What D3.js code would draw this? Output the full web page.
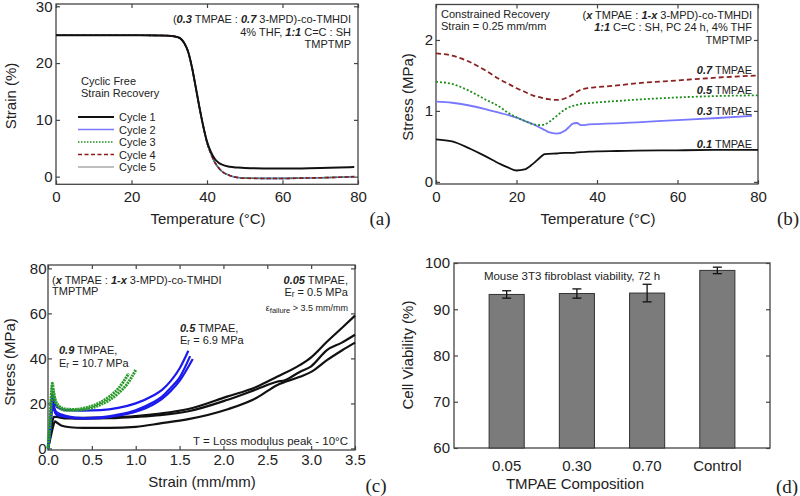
<!DOCTYPE html>
<html><head><meta charset="utf-8">
<script src="https://cdn.jsdelivr.net/npm/d3@7"></script>
<style>body{margin:0;background:#fff} svg text{font-family:Arial,"Liberation Sans",sans-serif;fill:#222}</style>
</head><body><svg id="c" width="800" height="496"></svg>
<script>
// ---------- Panel (a): cyclic free strain recovery ----------
const tempA  = [0,10,20,28,30,32,33,34,35,36,37,38,39,40,41,42,43,44,46,48,50,55,60,65,70,75,79];
const cycle1 = [24.9,24.9,24.9,24.85,24.8,24.6,24.3,23.5,22,19.3,15.8,12.2,8.9,6.2,4.4,3.2,2.5,2.1,1.75,1.6,1.5,1.45,1.45,1.45,1.5,1.6,1.7];
const cycle2 = [24.9,24.9,24.9,24.85,24.8,24.6,24.3,23.5,22,19.3,15.8,12.2,8.9,6.0,4.1,2.6,1.6,0.9,0.2,-0.15,-0.25,-0.3,-0.3,-0.25,-0.2,-0.1,0.0];
const cycle3 = [24.9,24.9,24.9,24.85,24.8,24.6,24.3,23.5,22,19.3,15.8,12.2,8.9,6.0,4.1,2.6,1.6,0.9,0.2,-0.15,-0.25,-0.3,-0.3,-0.25,-0.2,-0.1,0.0];
const cycle4 = [24.9,24.9,24.9,24.85,24.8,24.6,24.3,23.5,22,19.3,15.8,12.2,8.9,6.0,4.1,2.6,1.6,0.9,0.2,-0.15,-0.28,-0.32,-0.32,-0.27,-0.2,-0.12,-0.02];
const cycle5 = [24.9,24.9,24.9,24.85,24.8,24.6,24.3,23.5,22,19.3,15.8,12.2,8.9,6.0,4.1,2.6,1.6,0.9,0.2,-0.15,-0.25,-0.3,-0.3,-0.25,-0.2,-0.1,0.0];
const cycleNames = ["Cycle 1","Cycle 2","Cycle 3","Cycle 4","Cycle 5"];

// ---------- Panel (b): constrained recovery ----------
const tempB    = [0,4,8,12,16,18,20,22,24,26,27,28,30,32,34,35,36,38,40,45,50,60,70,80];
const tmpae01  = [0.60,0.57,0.48,0.37,0.25,0.20,0.16,0.175,0.25,0.35,0.39,0.395,0.40,0.41,0.41,0.415,0.42,0.425,0.43,0.435,0.44,0.445,0.45,0.45];
const tmpae05  = [1.41,1.38,1.29,1.17,1.05,0.97,0.91,0.86,0.815,0.80,0.81,0.84,0.93,1.02,1.07,1.085,1.10,1.11,1.12,1.14,1.16,1.19,1.21,1.22];
const tmpae07  = [1.81,1.78,1.70,1.58,1.44,1.38,1.32,1.27,1.22,1.19,1.175,1.165,1.155,1.175,1.23,1.27,1.30,1.325,1.335,1.36,1.39,1.43,1.47,1.50];
const tempB03  = [0,4,8,12,16,18,20,22,24,26,27,28,30,32,33,34,35,36,37,38,40,45,50,60,70,78.5];
const tmpae03  = [1.13,1.115,1.08,1.03,0.97,0.94,0.905,0.86,0.815,0.76,0.73,0.70,0.68,0.72,0.77,0.82,0.83,0.80,0.80,0.81,0.815,0.825,0.84,0.87,0.90,0.93];

// ---------- Panel (c): stress-strain ----------
const strainBlack1 = [0,0.02,0.035,0.05,0.07,0.1,0.15,0.25,0.4,0.7,1.0,1.28,1.6,2.04,2.38,2.61,2.87,3.0,3.18,3.35,3.5];
const stressBlack1 = [0,5,15,24,18,15,14.2,13.7,13.6,13.8,14.4,15.5,17.5,23,27.4,31.8,37,40.5,47.4,53.5,59];
const strainBlack2 = [0,0.03,0.05,0.07,0.1,0.15,0.25,0.4,0.7,1.0,1.28,1.6,2.04,2.38,2.61,2.7,2.87,3.0,3.18,3.35,3.5];
const stressBlack2 = [0,7,12,14,14,13.6,13.3,13.2,13.4,14,14.8,16.5,21.5,26.3,29.6,30.3,34,36.5,43.7,47,50.5];
const strainBlack3 = [0,0.03,0.06,0.08,0.1,0.15,0.25,0.4,0.7,1.0,1.28,1.6,2.04,2.38,2.61,2.87,3.0,3.18,3.35,3.5];
const stressBlack3 = [0,5,10,12,11.5,10.2,9.4,9.1,9.1,9.6,11.1,13,17.3,22.5,28.1,31.8,34,39.2,43.5,47];
const strainBlue1 = [0,0.02,0.04,0.05,0.07,0.1,0.2,0.4,0.6,0.8,1.0,1.2,1.3,1.4,1.5,1.6];
const stressBlue1 = [0,8,20,24,21,18.5,17,16.8,17,18,20,23.5,26,30,35.5,43.4];
const strainBlue2 = [0,0.03,0.05,0.07,0.1,0.2,0.4,0.6,0.8,1.0,1.2,1.3,1.4,1.5,1.62];
const stressBlue2 = [0,10,22,18,16,14.5,13.5,13.8,15,17,20.5,23,27,31.5,41];
const strainBlue3 = [0,0.03,0.05,0.07,0.1,0.2,0.4,0.6,0.8,1.0,1.2,1.3,1.4,1.5,1.65];
const stressBlue3 = [0,9,21,17,15,14,13.3,13.5,14.5,16.3,19.5,22,25.5,30,39.7];
const strainGreen1 = [0,0.02,0.04,0.05,0.06,0.08,0.12,0.2,0.3,0.4,0.5,0.6,0.7,0.8,0.92];
const stressGreen1 = [0,10,25,29,26,22,19,17.5,17.3,17.8,18.8,20.5,23,26.5,33.3];
const strainGreen2 = [0,0.02,0.04,0.05,0.06,0.08,0.12,0.2,0.3,0.4,0.5,0.6,0.7,0.8,0.9,1.0];
const stressGreen2 = [0,9,23,27,25,21,18.5,17,17,17.3,18,19.5,21.5,24.5,28.5,34.8];

// ---------- Panel (d): cell viability ----------
const compositions = ["0.05","0.30","0.70","Control"];
const viability    = [93.2,93.4,93.5,98.4];
const viabilityErr = [0.8,1.0,1.9,0.7];

// ---------- tick values ----------
const ticksA_x = [0,20,40,60,80], ticksA_y = [0,10,20,30];
const ticksB_x = [0,20,40,60,80], ticksB_y = [0,1,2];
const ticksC_x = [0,0.5,1,1.5,2,2.5,3,3.5], ticksC_y = [0,20,40,60,80];
const ticksD_y = [60,70,80,90,100];

const svg = d3.select("#c");
const AX = "#444";

function styleAxis(g){
  g.attr("font-family",null).attr("font-size",15);
  g.selectAll(".domain").remove();
  g.selectAll("line").attr("stroke",AX).attr("stroke-width",1.2);
  g.selectAll("text").attr("fill","#222");
}
function box(x, y, o){
  const [x0,x1] = x.range(), [y0,y1] = y.range();
  svg.append("rect").attr("x",x0).attr("y",y1).attr("width",x1-x0).attr("height",y0-y1)
    .attr("fill","none").attr("stroke",AX).attr("stroke-width",1.3);
  const b = d3.axisBottom(x).tickSizeOuter(0).tickPadding(o.xPad).tickSizeInner(o.xTickIn===undefined?-4:o.xTickIn);
  if(o.xTicks) b.tickValues(o.xTicks);
  if(o.xFmt) b.tickFormat(o.xFmt);
  svg.append("g").attr("transform",`translate(0,${y0})`).call(b).call(styleAxis);
  const l = d3.axisLeft(y).tickSizeOuter(0).tickSizeInner(-4).tickPadding(o.yPad).tickValues(o.yTicks).tickFormat(d3.format("d"));
  svg.append("g").attr("transform",`translate(${x0},0)`).call(l).call(styleAxis);
  const r = d3.axisRight(y).tickSizeOuter(0).tickSizeInner(-4).tickValues(o.yTicks).tickFormat("");
  svg.append("g").attr("transform",`translate(${x1},0)`).call(r).call(styleAxis);
  if(o.top){
    const t = d3.axisTop(x).tickSizeOuter(0).tickSizeInner(-4).tickValues(o.xTicks).tickFormat("");
    svg.append("g").attr("transform",`translate(0,${y1})`).call(t).call(styleAxis);
  }
}
function txt(x, y, parts, o={}){
  const t = svg.append("text").attr("x",x).attr("y",y).attr("font-size",o.size||11)
    .attr("text-anchor",o.anchor||"start").attr("dominant-baseline","central");
  if(o.rotate) t.attr("transform",`rotate(-90,${x},${y})`);
  if(o.family) t.style("font-family",o.family);
  parts.forEach(p=>{
    const s = typeof p==="string" ? {t:p} : p;
    const ts = t.append("tspan").text(s.t);
    if(s.bi) ts.attr("font-weight","bold").attr("font-style","italic");
    if(s.sub) ts.attr("font-size",(o.size||11)*0.75).attr("baseline-shift","-25%");
    if(s.fs) ts.attr("font-size",s.fs);
  });
  return t;
}
function series(x, y, xs, ys, st){
  const line = d3.line().x((d,i)=>x(xs[i])).y(d=>y(d)).curve(d3.curveMonotoneX);
  const p = svg.append("path").attr("d",line(ys)).attr("fill","none")
    .attr("stroke",st.c).attr("stroke-width",st.w||1.6).attr("stroke-linejoin","round");
  if(st.dash) p.attr("stroke-dasharray",st.dash);
  return p;
}

// ================= (a) =================
const xA = d3.scaleLinear([0,80],[56,358]);
const yA = d3.scaleLinear([-1.35,30.4],[184.3,4]);
box(xA,yA,{xTicks:ticksA_x,yTicks:ticksA_y,xPad:7.5,yPad:3.5,top:true});
const stA = [
  {c:"#111",w:2},
  {c:"#7a7aff",w:1.6},
  {c:"#1f8f1f",w:1.6,dash:"1.5,1.5"},
  {c:"#8b1a1a",w:1.6,dash:"4,2.5"},
  {c:"#aaaaaa",w:1.6}
];
const cyc = [cycle1,cycle2,cycle3,cycle4,cycle5];
[4,1,2,3,0].forEach(i=>series(xA,yA,tempA,cyc[i],stA[i]));
cycleNames.forEach((n,i)=>{
  const yy = 117 + i*12.5;
  const l = svg.append("line").attr("x1",78).attr("x2",114).attr("y1",yy).attr("y2",yy)
    .attr("stroke",stA[i].c).attr("stroke-width",stA[i].w);
  if(stA[i].dash) l.attr("stroke-dasharray",stA[i].dash);
  txt(119,yy,[n],{size:11});
});
txt(81,81,["Cyclic Free"],{size:11});
txt(81,93,["Strain Recovery"],{size:11});
txt(351,19,["(",{t:"0.3",bi:1}," TMPAE : ",{t:"0.7",bi:1}," 3-MPD)-co-TMHDI"],{anchor:"end"});
txt(351,31.5,["4% THF, ",{t:"1:1",bi:1}," C=C : SH"],{anchor:"end"});
txt(351,44,["TMPTMP"],{anchor:"end"});
txt(208,218,["Temperature (°C)"],{size:15,anchor:"middle"});
txt(10,96,["Strain (%)"],{size:15,anchor:"middle",rotate:1});
txt(380,218,["(a)"],{size:19,anchor:"middle",family:"'Liberation Serif','Times New Roman',serif"});

// ================= (b) =================
const xB = d3.scaleLinear([0,80],[436,758]);
const yB = d3.scaleLinear([-0.03,2.5],[184,4.5]);
box(xB,yB,{xTicks:ticksB_x,yTicks:ticksB_y,xPad:7.8,yPad:3,top:true});
series(xB,yB,tempB,tmpae01,{c:"#111",w:1.8});
series(xB,yB,tempB03,tmpae03,{c:"#7777ff",w:1.8});
series(xB,yB,tempB,tmpae05,{c:"#1f8f1f",w:1.8,dash:"2,2"});
series(xB,yB,tempB,tmpae07,{c:"#8b2323",w:1.8,dash:"5,3"});
txt(752,70,[{t:"0.7",bi:1}," TMPAE"],{anchor:"end"});
txt(752,89.5,[{t:"0.5",bi:1}," TMPAE"],{anchor:"end"});
txt(752,111,[{t:"0.3",bi:1}," TMPAE"],{anchor:"end"});
txt(752,144,[{t:"0.1",bi:1}," TMPAE"],{anchor:"end"});
txt(441,14,["Constrained Recovery"]);
txt(441,26,["Strain = 0.25 mm/mm"]);
txt(752,15.3,["(",{t:"x",bi:1}," TMPAE : ",{t:"1-x",bi:1}," 3-MPD)-co-TMHDI"],{anchor:"end"});
txt(752,27,[{t:"1:1",bi:1}," C=C : SH, PC 24 h, 4% THF"],{anchor:"end"});
txt(752,40,["TMPTMP"],{anchor:"end"});
txt(598,218,["Temperature (°C)"],{size:15,anchor:"middle"});
txt(407,97,["Stress (MPa)"],{size:15,anchor:"middle",rotate:1});
txt(788,218,["(b)"],{size:19,anchor:"middle",family:"'Liberation Serif','Times New Roman',serif"});

// ================= (c) =================
const xC = d3.scaleLinear([0,3.5],[48,355]);
const yC = d3.scaleLinear([-0.7,81.5],[450,265]);
box(xC,yC,{xTicks:ticksC_x,yTicks:ticksC_y,xPad:4.5,yPad:1.5,xFmt:d3.format(".1f"),top:true});
series(xC,yC,strainBlack3,stressBlack3,{c:"#111",w:2.2});
series(xC,yC,strainBlack2,stressBlack2,{c:"#111",w:2.2});
series(xC,yC,strainBlack1,stressBlack1,{c:"#111",w:2.2});
series(xC,yC,strainBlue3,stressBlue3,{c:"#1a1aee",w:2.2});
series(xC,yC,strainBlue2,stressBlue2,{c:"#1a1aee",w:2.2});
series(xC,yC,strainBlue1,stressBlue1,{c:"#1a1aee",w:2.2});
series(xC,yC,strainGreen2,stressGreen2,{c:"#2a9a2a",w:3,dash:"2,0.8"});
series(xC,yC,strainGreen1,stressGreen1,{c:"#2a9a2a",w:3,dash:"2,0.8"});
txt(52,280,["(",{t:"x",bi:1}," TMPAE : ",{t:"1-x",bi:1}," 3-MPD)-co-TMHDI"]);
txt(52,291,["TMPTMP"]);
txt(348,280,[{t:"0.05",bi:1}," TMPAE,"],{anchor:"end"});
txt(348,292,["E",{t:"r",sub:1}," = 0.5 MPa"],{anchor:"end"});
txt(348,308,[{t:"ε",fs:9},{t:"failure",sub:1},{t:" > 3.5 mm/mm",fs:9}],{anchor:"end",size:10});
txt(180,328,[{t:"0.5",bi:1}," TMPAE,"]);
txt(180,340,["E",{t:"r",sub:1}," = 6.9 MPa"]);
txt(59,350,[{t:"0.9",bi:1}," TMPAE,"]);
txt(59,363,["E",{t:"r",sub:1}," = 10.7 MPa"]);
txt(348,441,["T = Loss modulus peak - 10°C"],{anchor:"end",size:11.5});
txt(202,481,["Strain (mm/mm)"],{size:15,anchor:"middle"});
txt(9,362,["Stress (MPa)"],{size:15,anchor:"middle",rotate:1});
txt(376,485,["(c)"],{size:19,anchor:"middle",family:"'Liberation Serif','Times New Roman',serif"});

// ================= (d) =================
const xD = d3.scaleBand(compositions,[454,770]).padding(0.5);
const yD = d3.scaleLinear([60,100],[448,263]);
box(xD,yD,{yTicks:ticksD_y,xPad:12,yPad:4,xTickIn:0});
svg.append("g").selectAll("rect").data(compositions).join("rect")
  .attr("x",d=>xD(d)).attr("width",xD.bandwidth())
  .attr("y",(d,i)=>yD(viability[i])).attr("height",(d,i)=>yD(60)-yD(viability[i]))
  .attr("fill","#7b7b7b").attr("stroke","#333").attr("stroke-width",1);
const eb = svg.append("g").attr("stroke","#111").attr("stroke-width",1.3);
compositions.forEach((d,i)=>{
  const cx = xD(d)+xD.bandwidth()/2, lo = yD(viability[i]-viabilityErr[i]), hi = yD(viability[i]+viabilityErr[i]);
  eb.append("line").attr("x1",cx).attr("x2",cx).attr("y1",lo).attr("y2",hi);
  eb.append("line").attr("x1",cx-4.5).attr("x2",cx+4.5).attr("y1",lo).attr("y2",lo);
  eb.append("line").attr("x1",cx-4.5).attr("x2",cx+4.5).attr("y1",hi).attr("y2",hi);
});
txt(572,276,["Mouse 3T3 fibroblast viability, 72 h"],{anchor:"middle",size:11.5});
txt(575,483,["TMPAE Composition"],{size:15,anchor:"middle"});
txt(407,355,["Cell Viability (%)"],{size:15,anchor:"middle",rotate:1});
txt(787,486,["(d)"],{size:19,anchor:"middle",family:"'Liberation Serif','Times New Roman',serif"});
</script></body></html>
